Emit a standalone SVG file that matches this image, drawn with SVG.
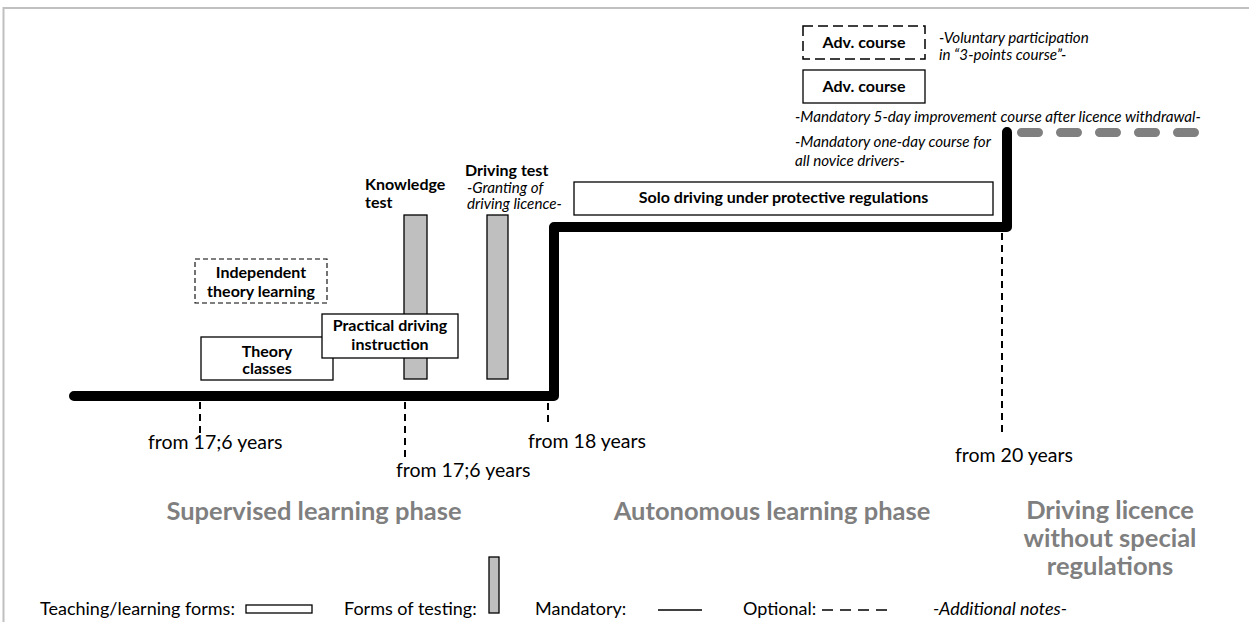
<svg xmlns="http://www.w3.org/2000/svg" width="1249" height="622" viewBox="0 0 1249 622">
  <style>
    text { font-family: Lato, "Liberation Sans", sans-serif; fill: #000; }
    .b { font-weight: bold; font-size: 16px; }
    .it { font-style: italic; font-size: 15.2px; }
    .age { font-size: 19.5px; }
    .phase { font-weight: bold; font-size: 25.5px; fill: #7f7f7f; }
    .leg { font-size: 18px; }
    .box { fill: #fff; stroke: #000; stroke-width: 1.3; }
    .dbox { fill: #fff; stroke: #000; stroke-width: 1.5; stroke-dasharray: 10 5; }
    .dbox2 { fill: #fff; stroke: #000; stroke-width: 1.1; stroke-dasharray: 5 3; }
    .bar { fill: #bfbfbf; stroke: #000; stroke-width: 1.3; }
    .tick { fill: none; stroke: #000; stroke-width: 2; stroke-dasharray: 7 5; }
  </style>

  <!-- page frame -->
  <rect x="3.5" y="8" width="1270" height="700" fill="none" stroke="#c0c0c0" stroke-width="2"/>

  <!-- timeline and age markers -->
  <g id="connectors">
    <path d="M74,396 H554 V227 H1007 V132" fill="none" stroke="#000" stroke-width="10" stroke-linecap="round" stroke-linejoin="round"/>
    <path d="M1021.5,132.5 H1196" fill="none" stroke="#808080" stroke-width="9" stroke-linecap="round" stroke-dasharray="17 22"/>
    <line class="tick" x1="200" y1="402" x2="200" y2="437"/>
    <line class="tick" x1="405" y1="402" x2="405" y2="459"/>
    <line class="tick" x1="548" y1="403" x2="548" y2="422"/>
    <line class="tick" x1="1002" y1="233" x2="1002" y2="433"/>
  </g>

  <g id="age-labels">
    <text class="age" x="148" y="449">from 17;6 years</text>
    <text class="age" x="396" y="477">from 17;6 years</text>
    <text class="age" x="528" y="448">from 18 years</text>
    <text class="age" x="955" y="462">from 20 years</text>
  </g>

  <!-- learning forms -->
  <g id="independent-theory">
    <rect class="dbox2" x="195" y="259" width="132" height="44"/>
    <text class="b" x="261" y="278" text-anchor="middle">Independent</text>
    <text class="b" x="261" y="297" text-anchor="middle">theory learning</text>
  </g>

  <g id="theory-classes">
    <rect class="box" x="201" y="337" width="132" height="43"/>
    <text class="b" x="267" y="357" text-anchor="middle">Theory</text>
    <text class="b" x="267" y="374" text-anchor="middle">classes</text>
  </g>

  <g id="knowledge-test">
    <rect class="bar" x="404" y="215" width="23" height="164"/>
    <text class="b" x="365" y="190">Knowledge</text>
    <text class="b" x="365" y="208">test</text>
  </g>

  <g id="practical-driving">
    <rect class="box" x="322" y="314" width="136" height="44"/>
    <text class="b" x="390" y="331" text-anchor="middle">Practical driving</text>
    <text class="b" x="390" y="350" text-anchor="middle">instruction</text>
  </g>

  <g id="driving-test">
    <rect class="bar" x="487" y="215" width="21" height="164"/>
    <text class="b" x="465" y="176">Driving test</text>
    <text class="it" x="467" y="193">-Granting of</text>
    <text class="it" x="467" y="209">driving licence-</text>
  </g>

  <g id="solo-driving">
    <rect class="box" x="574" y="182" width="419" height="33"/>
    <text class="b" x="783.5" y="203" text-anchor="middle">Solo driving under protective regulations</text>
  </g>

  <g id="adv-course-voluntary">
    <rect class="dbox" x="803" y="26" width="122" height="33"/>
    <text class="b" x="864" y="48" text-anchor="middle">Adv. course</text>
    <text class="it" x="939" y="43">-Voluntary participation</text>
    <text class="it" x="939" y="60">in “3-points course”-</text>
  </g>

  <g id="adv-course-mandatory">
    <rect class="box" x="803" y="70" width="122" height="33"/>
    <text class="b" x="864" y="92" text-anchor="middle">Adv. course</text>
    <text class="it" x="795" y="122">-Mandatory 5-day improvement course after licence withdrawal-</text>
    <text class="it" x="795" y="147">-Mandatory one-day course for</text>
    <text class="it" x="795" y="166">all novice drivers-</text>
  </g>

  <!-- phases -->
  <g id="phases">
    <text class="phase" x="314" y="520" text-anchor="middle">Supervised learning phase</text>
    <text class="phase" x="772" y="520" text-anchor="middle">Autonomous learning phase</text>
    <text class="phase" x="1110" y="519" text-anchor="middle">Driving licence</text>
    <text class="phase" x="1110" y="547" text-anchor="middle">without special</text>
    <text class="phase" x="1110" y="575" text-anchor="middle">regulations</text>
  </g>

  <!-- legend -->
  <g id="legend">
    <text class="leg" x="40" y="615">Teaching/learning forms:</text>
    <rect class="box" x="246" y="605" width="66" height="8"/>
    <text class="leg" x="344" y="615">Forms of testing:</text>
    <rect class="bar" x="489" y="557" width="10" height="56"/>
    <text class="leg" x="535" y="615">Mandatory:</text>
    <line x1="658" y1="610" x2="702" y2="610" stroke="#000" stroke-width="1.5"/>
    <text class="leg" x="743" y="615">Optional:</text>
    <line x1="822" y1="610" x2="891" y2="610" stroke="#000" stroke-width="1.5" stroke-dasharray="11 7"/>
    <text class="leg" x="933" y="615" font-style="italic">-Additional notes-</text>
  </g>
</svg>
